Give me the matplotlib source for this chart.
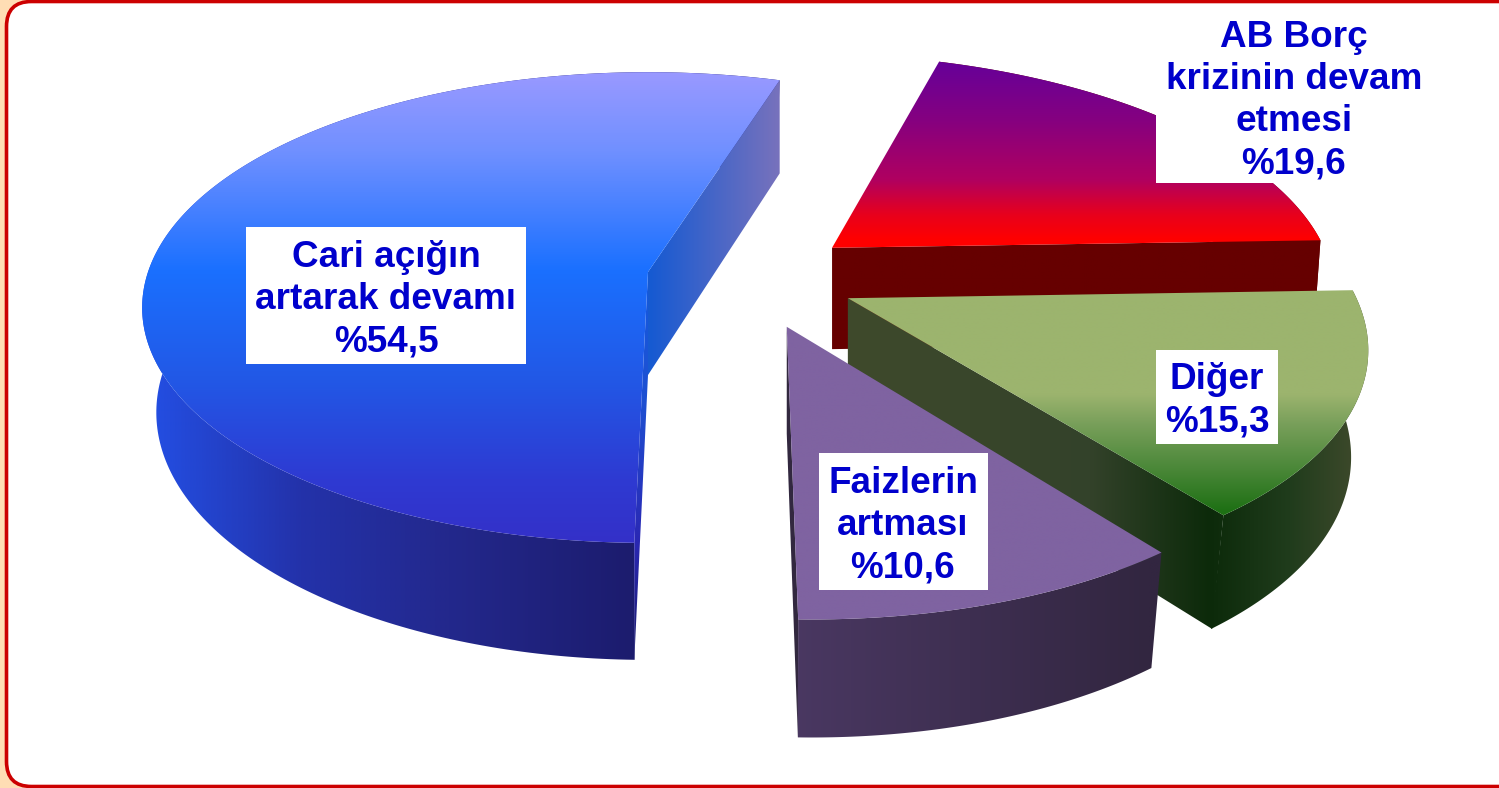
import numpy as np
import matplotlib
matplotlib.use("Agg")
import matplotlib.pyplot as plt
from matplotlib.colors import LinearSegmentedColormap
from matplotlib.patches import FancyBboxPatch, Polygon, Rectangle

# Data
labels = ["Cari açığın\nartarak devamı", "AB Borç\nkrizinin devam\netmesi", "Diğer", "Faizlerin\nartması"]
values = [54.5, 19.6, 15.3, 10.6]

# Layout, all in picture pixels except explode (pie radius units)
W, H = 1499, 788
CX, CY, RX, RY, K, DEPTH = 650, 272, 500, 230, 0.151, 103
START = 181.3  # clockwise from the top, where the blue slice starts
explode = [(-0.004, 0), (0.37, -0.107), (0.389, 0.112), (0.264, 0.23)]
# lower face is a bit smaller than the upper one
shrink_x = [0.972, 0.985, 0.967, 0.973]
shrink_y = [0.985, 0.985, 0.975, 0.973]
cut_x = [1.0, 0.985, 0.97, 0.973]
label_boxes = [(246, 227, 526, 364), (1156, 10, 1432, 183), (1156, 350, 1278, 444), (819, 453, 988, 590)]
text_x = [386, 1294, 1217, 903]

# colour stops: (pixel, colour)
top_stops = [
    [(72, "#9999ff"), (150, "#7090ff"), (270, "#1a70ff"), (380, "#2258e6"), (480, "#2e3ad2"), (543, "#3430c8")],
    [(62, "#660099"), (120, "#850080"), (180, "#b00060"), (215, "#e8001c"), (240, "#ff0000")],
    [(285, "#9cb46e"), (395, "#9cb46e"), (425, "#789f5a"), (465, "#4f8a3c"), (512, "#1e7014")],
    [(326, "#7f63a1"), (740, "#7f63a1")],
]
rim_stops = [
    [(142, "#2350e6"), (300, "#2332aa"), (450, "#23288c"), (632, "#1c1c6e")],
    [(832, "#660000"), (1316, "#660000")],
    [(848, "#3f4a2c"), (1090, "#33422a"), (1210, "#0c2a0a"), (1290, "#203c1c"), (1360, "#3f4a2c")],
    [(790, "#4a3862"), (1150, "#322640")],
]
face_stops = {
    (0, 0): ("y", [(272, "#145ae0"), (400, "#1e50d2"), (540, "#2a28b4"), (660, "#1c1c6e")]),
    (0, 1): ("x", [(650, "#165ad2"), (780, "#7872bc")]),
    (1, 1): ("x", [(832, "#660000"), (1316, "#660000")]),
    (2, 1): ("x", rim_stops[2]),
    (3, 1): ("x", [(787, "#32283f"), (800, "#32283f")]),
}


def project(u, v, z=0.0):
    s = 1 / (1 - K * v)
    return CX + RX * u * s, CY + RY * v * s + z * s


def shade(ax, pts, stops, axis="y"):
    # paint a linear gradient and clip it to the polygon
    pts = np.asarray(pts)
    lo, hi = stops[0][0], stops[-1][0]
    pos = [(p - lo) / (hi - lo) for p, _ in stops]
    cmap = LinearSegmentedColormap.from_list("g", list(zip(pos, [c for _, c in stops])))
    patch = Polygon(pts, closed=True, transform=ax.transData, fc="none", ec="none")
    ax.add_patch(patch)
    x0, x1 = pts[:, 0].min() - 1, pts[:, 0].max() + 1
    y0, y1 = pts[:, 1].min() - 1, pts[:, 1].max() + 1
    if axis == "y":
        img = np.clip((np.linspace(y0, y1, 512) - lo) / (hi - lo), 0, 1)[:, None]
    else:
        img = np.clip((np.linspace(x0, x1, 512) - lo) / (hi - lo), 0, 1)[None, :]
    im = ax.imshow(img, cmap=cmap, vmin=0, vmax=1, extent=(x0, x1, y1, y0), aspect="auto",
                   interpolation="bilinear", zorder=2)
    im.set_clip_path(patch)


fig = plt.figure(figsize=(W / 100, H / 100), dpi=100, facecolor="#ffddb4")
ax = fig.add_axes([0, 0, 1, 1])
ax.set_axis_off()

ax.add_patch(FancyBboxPatch((6.5, 1.5), W + 40, H - 3.0, boxstyle="round,pad=0,rounding_size=25",
                            fc="white", ec="#cc0000", lw=2.6))

edges = START + np.concatenate([[0], np.cumsum(values)]) * 3.6
for i, val in enumerate(values):
    a = np.radians(np.linspace(edges[i], edges[i + 1], 240))
    u0, v0 = explode[i]
    u, v = u0 + np.sin(a), v0 - np.cos(a)
    top = np.column_stack(project(u, v))
    apex, apex_b = project(u0, v0), project(u0, v0, DEPTH)
    drop = np.column_stack(project(u, v, DEPTH)) - apex_b
    bottom = np.array(apex_b) + drop * [shrink_x[i], shrink_y[i]]
    cut_bottom = np.array(apex_b) + drop * [cut_x[i], shrink_y[i]]

    shade(ax, np.vstack([top, bottom[::-1]]), rim_stops[i], "x")
    # the straight cut faces that can be seen from the camera
    for j, idx in enumerate([0, -1]):
        if (i, j) in face_stops:
            axis, stops = face_stops[(i, j)]
            shade(ax, [apex, top[idx], cut_bottom[idx], apex_b], stops, axis)
    shade(ax, np.vstack([[apex], top]), top_stops[i], "y")

for i, val in enumerate(values):
    x0, y0, x1, y1 = label_boxes[i]
    ax.add_patch(Rectangle((x0, y0), x1 - x0, y1 - y0, fc="white", ec="none", zorder=5))
    txt = labels[i] + "\n%" + f"{val:.1f}".replace(".", ",")
    ax.text(text_x[i], (y0 + y1) / 2 + 4, txt, ha="center", va="center", color="#0000cc", fontsize=26.6,
            fontweight="bold", family="Liberation Sans", linespacing=1.27, zorder=6)

ax.set_xlim(0, W)
ax.set_ylim(H, 0)
fig.savefig("out.png", dpi=100, facecolor=fig.get_facecolor())
